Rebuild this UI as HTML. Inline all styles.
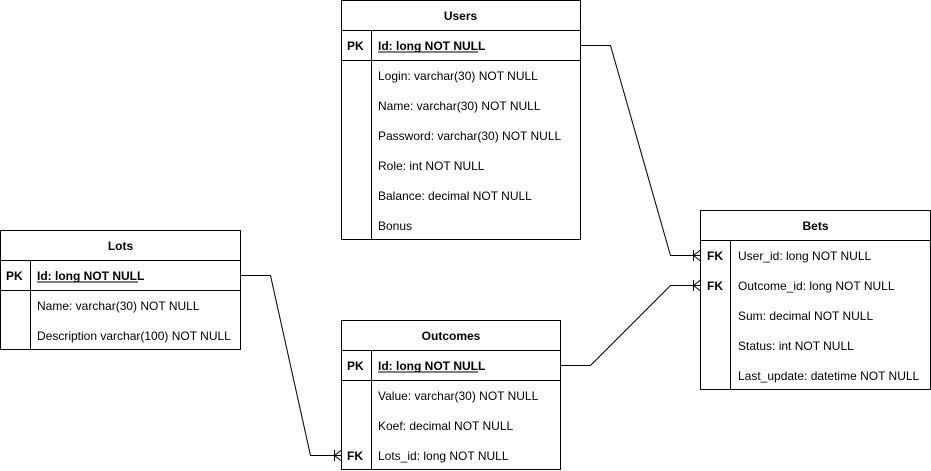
<!DOCTYPE html>
<html><head><meta charset="utf-8"><style>
html,body{margin:0;padding:0;background:#fff;width:931px;height:471px;overflow:hidden}
text{font-family:"Liberation Sans",Arial,sans-serif;font-size:12px;fill:#000}
.b{font-weight:bold}
</style></head><body>
<svg width="931" height="471" xmlns="http://www.w3.org/2000/svg">
<g fill="none" stroke="#000" stroke-width="1">
<rect x="341.5" y="0.5" width="239" height="239"/>
<line x1="341.5" y1="30.5" x2="580.5" y2="30.5"/>
<line x1="341.5" y1="60.5" x2="580.5" y2="60.5"/>
<line x1="371.5" y1="30.5" x2="371.5" y2="239.5"/>
<rect x="0.5" y="230.5" width="240" height="119"/>
<line x1="0.5" y1="260.5" x2="240.5" y2="260.5"/>
<line x1="0.5" y1="290.5" x2="240.5" y2="290.5"/>
<line x1="30.5" y1="260.5" x2="30.5" y2="349.5"/>
<rect x="341.5" y="320.5" width="219" height="149"/>
<line x1="341.5" y1="350.5" x2="560.5" y2="350.5"/>
<line x1="341.5" y1="380.5" x2="560.5" y2="380.5"/>
<line x1="371.5" y1="350.5" x2="371.5" y2="469.5"/>
<rect x="700.5" y="210.5" width="230" height="179"/>
<line x1="700.5" y1="240.5" x2="930.5" y2="240.5"/>
<line x1="730.5" y1="240.5" x2="730.5" y2="389.5"/>
<polyline points="580.5,45.5 610.5,45.5 670.5,255.5 700.5,255.5"/>
<polyline points="560.5,365.5 590.5,365.5 670.5,285.5 700.5,285.5"/>
<polyline points="240.5,275.5 270.5,275.5 310.5,455.5 341.5,455.5"/>
<line x1="693.5" y1="250" x2="693.5" y2="261"/>
<polyline points="700.5,250 693.5,255.5 700.5,261"/>
<line x1="693.5" y1="280" x2="693.5" y2="291"/>
<polyline points="700.5,280 693.5,285.5 700.5,291"/>
<line x1="334.5" y1="450" x2="334.5" y2="461"/>
<polyline points="341.5,450 334.5,455.5 341.5,461"/>
</g>
<text x="460.5" y="20" text-anchor="middle" class="b">Users</text>
<text x="347" y="50" class="b">PK</text>
<text x="378" y="50" class="b">Id: long NOT NULL</text>
<line x1="378" y1="52" x2="478" y2="52" stroke="#000"/>
<text x="378" y="80">Login: varchar(30) NOT NULL</text>
<text x="378" y="110">Name: varchar(30) NOT NULL</text>
<text x="378" y="140">Password: varchar(30) NOT NULL</text>
<text x="378" y="170">Role: int NOT NULL</text>
<text x="378" y="200">Balance: decimal NOT NULL</text>
<text x="378" y="230">Bonus</text>
<text x="120.5" y="250" text-anchor="middle" class="b">Lots</text>
<text x="6" y="280" class="b">PK</text>
<text x="37" y="280" class="b">Id: long NOT NULL</text>
<line x1="37" y1="282" x2="138" y2="282" stroke="#000"/>
<text x="37" y="310">Name: varchar(30) NOT NULL</text>
<text x="37" y="340">Description varchar(100) NOT NULL</text>
<text x="451" y="340" text-anchor="middle" class="b">Outcomes</text>
<text x="347" y="370" class="b">PK</text>
<text x="378" y="370" class="b">Id: long NOT NULL</text>
<line x1="378" y1="372" x2="478" y2="372" stroke="#000"/>
<text x="378" y="400">Value: varchar(30) NOT NULL</text>
<text x="378" y="430">Koef: decimal NOT NULL</text>
<text x="347" y="460" class="b">FK</text>
<text x="378" y="460">Lots_id: long NOT NULL</text>
<text x="815.5" y="230" text-anchor="middle" class="b">Bets</text>
<text x="707" y="260" class="b">FK</text>
<text x="738" y="260">User_id: long NOT NULL</text>
<text x="707" y="290" class="b">FK</text>
<text x="738" y="290">Outcome_id: long NOT NULL</text>
<text x="738" y="320">Sum: decimal NOT NULL</text>
<text x="738" y="350">Status: int NOT NULL</text>
<text x="738" y="380">Last_update: datetime NOT NULL</text>
</svg>
</body></html>
